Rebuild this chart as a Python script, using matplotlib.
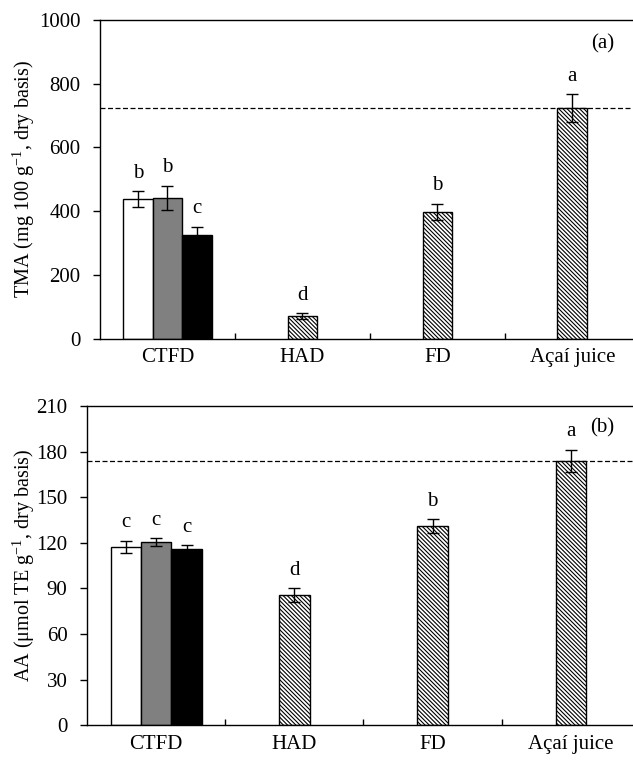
import numpy as np
import matplotlib
matplotlib.use('Agg')
import matplotlib.pyplot as plt

plt.rcParams['font.family'] = ['Liberation Serif', 'DejaVu Serif']
plt.rcParams['mathtext.default'] = 'regular'
plt.rcParams['hatch.linewidth'] = 0.8
plt.rcParams['hatch.color'] = '#333333'

groups = ['CTFD', 'HAD', 'FD', 'Açaí juice']

# CTFD: three sub-treatments (white, gray, black)
tma_ctfd = [438, 441, 325]
tma_ctfd_err = [24, 38, 25]
tma_ctfd_letters = ['b', 'b', 'c']
tma_other = [71, 397, 723]
tma_other_err = [8, 26, 43]
tma_other_letters = ['d', 'b', 'a']

aa_ctfd = [117.4, 120.5, 116.1]
aa_ctfd_err = [4.0, 2.5, 2.2]
aa_ctfd_letters = ['c', 'c', 'c']
aa_other = [85.6, 131.0, 173.8]
aa_other_err = [4.5, 4.5, 7.5]
aa_other_letters = ['d', 'b', 'a']

ctfd_colors = ['white', '#808080', 'black']

fig = plt.figure(figsize=(6.33, 7.61), dpi=100)
ax_a = fig.add_axes([0.158, 0.555, 0.842, 0.419])
ax_b = fig.add_axes([0.1375, 0.047, 0.8625, 0.4195])

width = 0.22
fs = 15


def draw_panel(ax, ctfd, ctfd_err, ctfd_letters, other, other_err, other_letters,
               ymax, ystep, ref, ylabel, label_x, tag, tag_y, letter_pad):
    centers = np.arange(len(groups)) + 0.5
    offsets = [-width, 0, width]
    ekw = dict(elinewidth=1, capthick=1, ecolor='black')
    for k in range(3):
        x = centers[0] + offsets[k]
        ax.bar(x, ctfd[k], width, color=ctfd_colors[k], edgecolor='black', linewidth=1,
               yerr=ctfd_err[k], capsize=4.5, error_kw=ekw, zorder=2)
        ax.text(x, ctfd[k] + ctfd_err[k] + letter_pad, ctfd_letters[k],
                ha='center', va='bottom', fontsize=fs)
    for k in range(3):
        x = centers[k + 1]
        ax.bar(x, other[k], width, color='white', edgecolor='black', linewidth=1,
               hatch='\\\\\\\\\\\\\\\\', yerr=other_err[k], capsize=4.5,
               error_kw=ekw, zorder=2)
        ax.text(x, other[k] + other_err[k] + letter_pad, other_letters[k],
                ha='center', va='bottom', fontsize=fs)

    # reference level of the juice
    ax.axhline(ref, color='black', linestyle=(0, (4, 2)), linewidth=0.9, zorder=1)

    ax.set_xlim(0, 3.95)
    ax.set_ylim(0, ymax)
    ax.set_yticks(np.arange(0, ymax + 1, ystep))
    ax.set_xticks(centers)
    ax.set_xticklabels(groups, fontsize=fs)
    ax.tick_params(axis='x', length=0, pad=7)
    ax.set_xticks([1, 2, 3], minor=True)
    ax.tick_params(axis='x', which='minor', direction='in', length=4, width=1)
    ax.tick_params(axis='y', direction='out', length=5, width=1, labelsize=fs, pad=9)
    ax.spines['right'].set_visible(False)
    for s in ['left', 'top', 'bottom']:
        ax.spines[s].set_linewidth(1)
    ax.set_ylabel(ylabel, fontsize=14.5)
    ax.yaxis.set_label_coords(label_x, 0.5)
    ax.text(0.965, tag_y, tag, transform=ax.transAxes, ha='right', va='center', fontsize=fs)


draw_panel(ax_a, tma_ctfd, tma_ctfd_err, tma_ctfd_letters, tma_other, tma_other_err, tma_other_letters,
           1000, 200, tma_other[2], 'TMA (mg 100 g$^{-1}$, dry basis)', -0.118, '(a)', 0.925, 27)
draw_panel(ax_b, aa_ctfd, aa_ctfd_err, aa_ctfd_letters, aa_other, aa_other_err, aa_other_letters,
           210, 30, aa_other[2], 'AA (μmol TE g$^{-1}$, dry basis)', -0.092, '(b)', 0.93, 5.6)

fig.savefig('out.png', dpi=100)
